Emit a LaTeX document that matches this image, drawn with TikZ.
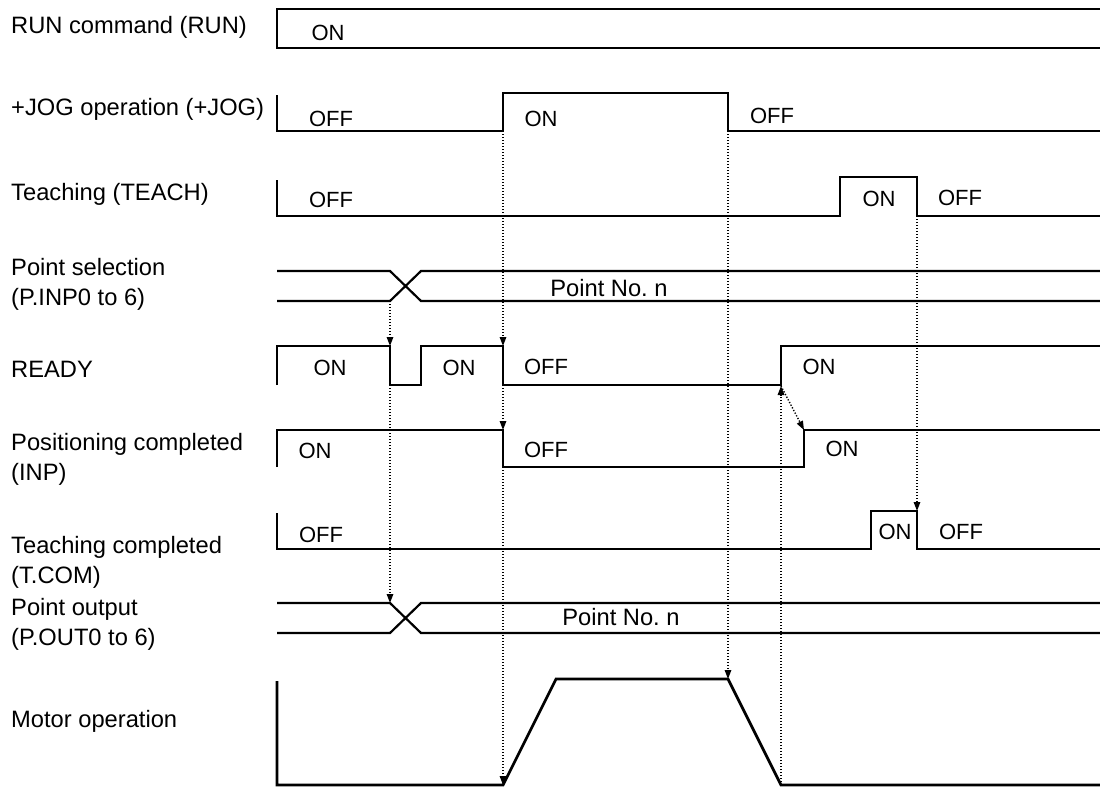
\documentclass[tikz,border=0pt]{standalone}
\usepackage{fontspec}
\setmainfont{Liberation Sans}
\usetikzlibrary{arrows.meta}
\frenchspacing

\begin{document}
\begin{tikzpicture}[x=1pt, y=-1pt, >={Triangle[length=9pt,width=6.5pt]},
    sig/.style={line width=2.7pt, line join=miter},
    bus/.style={line width=2.2pt},
    cue/.style={->, line width=1.4pt, dash pattern=on 1.3pt off 1.7pt},
    lbl/.style={anchor=base west, align=left, inner sep=0pt, font=\fontsize{23.7}{30}\selectfont},
    st/.style={inner sep=0pt, font=\fontsize{22}{26}\selectfont}]
    \useasboundingbox (0,0) rectangle (1100,787);

    % 左侧信号名称
    \node[lbl] (nRun)   at (11,33)  {RUN command (RUN)};
    \node[lbl] (nJog)   at (11,115) {+JOG operation (+JOG)};
    \node[lbl] (nTeach) at (11,200) {Teaching (TEACH)};
    \node[lbl] (nPsel)  at (11,305) {Point selection\\(P.INP0 to 6)};
    \node[lbl] (nReady) at (11,377) {READY};
    \node[lbl] (nInp)   at (11,480) {Positioning completed\\(INP)};
    \node[lbl] (nTcom)  at (11,583) {Teaching completed\\(T.COM)};
    \node[lbl] (nPout)  at (11,645) {Point output\\(P.OUT0 to 6)};
    \node[lbl] (nMotor) at (11,727) {Motor operation};

    % 各信号波形
    \draw[sig] (1100,9) -- (277,9) -- (277,48) -- (1100,48);
    \draw[sig] (277,95) -- (277,131) -- (503,131) -- (503,93) -- (728,93) -- (728,131) -- (1100,131);
    \draw[sig] (277,180) -- (277,216) -- (840,216) -- (840,177) -- (917,177) -- (917,216) -- (1100,216);
    \draw[bus] (277,271) -- (390,271) -- (421,301) -- (1100,301);
    \draw[bus] (277,301) -- (390,301) -- (421,271) -- (1100,271);
    \draw[sig] (277,385) -- (277,346) -- (390,346) -- (390,385) -- (421,385) -- (421,346) -- (503,346)
        -- (503,385) -- (781,385) -- (781,346) -- (1100,346);
    \draw[sig] (277,467) -- (277,430) -- (503,430) -- (503,467) -- (804,467) -- (804,430) -- (1100,430);
    \draw[sig] (277,513) -- (277,549) -- (871,549) -- (871,511) -- (917,511) -- (917,549) -- (1100,549);
    \draw[bus] (277,603) -- (390,603) -- (421,633) -- (1100,633);
    \draw[bus] (277,633) -- (390,633) -- (421,603) -- (1100,603);
    \draw[sig] (277,681) -- (277,785) -- (503,785) -- (556,679) -- (728,679) -- (781,785) -- (1100,785);

    % 状态文字
    \node[st] (sRun)   at (328,33)  {ON};
    \node[st] (sJog1)  at (331,119) {OFF};
    \node[st] (sJog2)  at (541,119) {ON};
    \node[st] (sJog3)  at (772,116) {OFF};
    \node[st] (sTch1)  at (331,200) {OFF};
    \node[st] (sTch2)  at (879,199) {ON};
    \node[st] (sTch3)  at (960,198) {OFF};
    \node[lbl, anchor=center] (sPsel) at (609,288) {Point No. n};
    \node[st] (sRdy1)  at (330,368) {ON};
    \node[st] (sRdy2)  at (459,368) {ON};
    \node[st] (sRdy3)  at (546,367) {OFF};
    \node[st] (sRdy4)  at (819,367) {ON};
    \node[st] (sInp1)  at (315,451) {ON};
    \node[st] (sInp2)  at (546,450) {OFF};
    \node[st] (sInp3)  at (842,449) {ON};
    \node[st] (sTcm1)  at (321,535) {OFF};
    \node[st] (sTcm2)  at (895,532) {ON};
    \node[st] (sTcm3)  at (961,532) {OFF};
    \node[lbl, anchor=center] (sPout) at (621,617) {Point No. n};

    % 时序关系的端点
    \coordinate (pselX)  at (390,301);
    \coordinate (rdyOff) at (390,346);
    \coordinate (rdyLo)  at (390,385);
    \coordinate (poutX)  at (390,603);
    \coordinate (jogOn)  at (503,131);
    \coordinate (rdyOff2) at (503,346);
    \coordinate (rdyLo2) at (503,385);
    \coordinate (inpOff) at (503,430);
    \coordinate (inpLo)  at (503,467);
    \coordinate (motUp)  at (503,785);
    \coordinate (jogOff) at (728,131);
    \coordinate (motDn)  at (728,679);
    \coordinate (motEnd) at (781,785);
    \coordinate (rdyOn)  at (781,386);
    \coordinate (inpOn)  at (804,430);
    \coordinate (tchOff) at (917,216);
    \coordinate (tcmOff) at (917,511);

    % 虚线箭头
    \draw[cue] (pselX) -- (rdyOff);
    \draw[cue] (rdyLo) -- (poutX);
    \draw[cue] (jogOn) -- (rdyOff2);
    \draw[cue] (rdyLo2) -- (inpOff);
    \draw[cue] (inpLo) -- (motUp);
    \draw[cue] (jogOff) -- (motDn);
    \draw[cue] (motEnd) -- (rdyOn);
    \draw[cue] (rdyOn) -- (inpOn);
    \draw[cue] (tchOff) -- (tcmOff);
\end{tikzpicture}
\end{document}
